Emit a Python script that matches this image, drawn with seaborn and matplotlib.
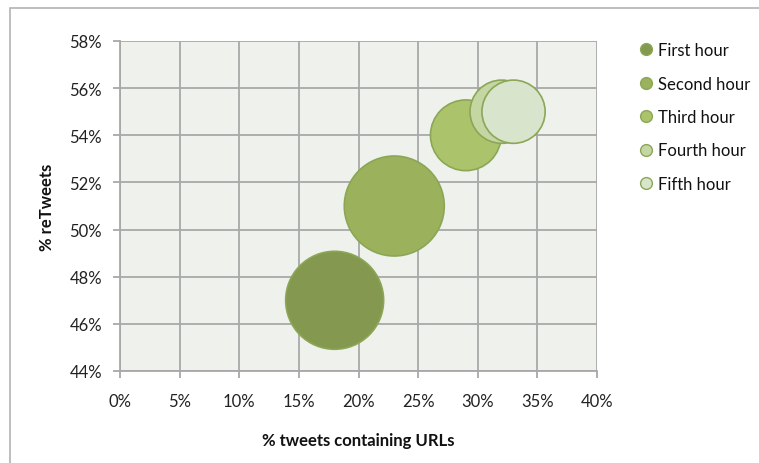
import matplotlib
matplotlib.use("Agg")
import matplotlib.pyplot as plt
from matplotlib.lines import Line2D
from matplotlib.patches import Rectangle
from matplotlib.ticker import PercentFormatter
import seaborn as sns
import pandas as pd

# Bubble chart data: share of tweets with URLs vs share of retweets, by hour
hours = ["First hour", "Second hour", "Third hour", "Fourth hour", "Fifth hour"]
url_share = [18, 23, 29, 32, 33]          # % tweets containing URLs
retweet_share = [47, 51, 54, 55, 55]      # % reTweets
bubble_size = [96, 100, 50, 40, 40]       # relative tweet volume
colors = ["#84994F", "#9BB15C", "#ABC46B", "#C4D6A2", "#D8E4CB"]
edge_color = "#8CA657"

x_ticks = list(range(0, 41, 5))
y_ticks = list(range(44, 59, 2))

df = pd.DataFrame({"hour": hours, "url": url_share,
                   "rt": retweet_share, "size": bubble_size})

sns.set_theme(style="white")
plt.rcParams["font.family"] = ["Lato", "DejaVu Sans"]

fig = plt.figure(figsize=(7.59, 4.64), dpi=100)
ax = fig.add_axes([120 / 759, 1 - 372 / 464, 477 / 759, 330 / 464])
ax.set_facecolor("#EFF2EC")

# bubble area proportional to size (largest bubble ~100 px across)
max_area = (100 * 72 / 100) ** 2
sns.scatterplot(data=df, x="url", y="rt", hue="hour", palette=dict(zip(hours, colors)),
                size="size", sizes=(0, max_area), size_norm=(0, max(bubble_size)),
                edgecolor=edge_color, linewidth=1.2, alpha=1, legend=False,
                ax=ax, zorder=3)

ax.set_xlim(0, 40)
ax.set_ylim(44, 58)
ax.set_xticks(x_ticks)
ax.set_yticks(y_ticks)
ax.xaxis.set_major_formatter(PercentFormatter(decimals=0))
ax.yaxis.set_major_formatter(PercentFormatter(decimals=0))
ax.grid(True, color="#A8A8A8", linewidth=1.3, zorder=0)
ax.set_axisbelow(True)
for side, sp in ax.spines.items():
    sp.set_visible(side in ("left", "bottom"))
    sp.set_color("#A8A8A8")
    sp.set_linewidth(1.3)
ax.tick_params(axis="both", which="major", length=5, width=1.3, color="#A8A8A8",
               labelsize=12, labelcolor="#222222", direction="out",
               bottom=True, left=True)
ax.tick_params(axis="y", pad=8)
ax.tick_params(axis="x", pad=11)

ax.set_xlabel("% tweets containing URLs", fontsize=12, fontweight="bold",
              color="#111111")
ax.set_ylabel("% reTweets", fontsize=12, fontweight="bold", color="#111111")
ax.xaxis.set_label_coords(0.5, -(433 - 372) / 330)
ax.yaxis.set_label_coords((55 - 120) / 477, 0.5)

handles = [Line2D([0], [0], marker="o", linestyle="", markersize=8.5,
                  markerfacecolor=c, markeredgecolor=edge_color, markeredgewidth=1)
           for c in colors]
leg = fig.legend(handles, hours, loc="upper left", bbox_to_anchor=(638 / 759, 1 - 43 / 464),
                 frameon=False, fontsize=12, labelspacing=1.05, handletextpad=0.2,
                 handlelength=1.0, borderaxespad=0, borderpad=0)
for t in leg.get_texts():
    t.set_color("#111111")

# chart frame
fig.patches.append(Rectangle((10 / 759, -0.1), 1.2, 1 - 9 / 464 + 0.1,
                             transform=fig.transFigure, fill=False,
                             edgecolor="#B3B3B3", linewidth=1.2, clip_on=False))

fig.savefig("out.png", dpi=100)
